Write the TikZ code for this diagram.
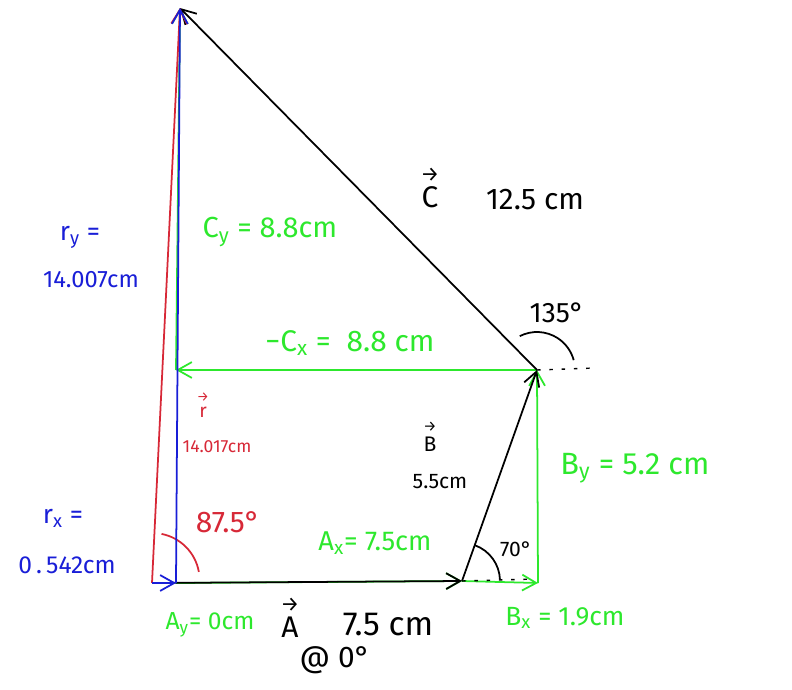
\documentclass[tikz,border=0pt]{standalone}
\usepackage{amsmath}
\usepackage{fontspec}
\setmainfont{Fira Sans}
\usetikzlibrary{arrows.meta}

\definecolor{penGreen}{RGB}{45,232,45}
\definecolor{penBlue}{RGB}{25,30,215}
\definecolor{penRed}{RGB}{215,40,55}

\newcommand{\pensize}[1]{\fontsize{#1}{#1}\selectfont}
\newcommand{\arrowover}[1]{\shortstack{\scalebox{0.7}{→}\\#1}}

\begin{document}
\begin{tikzpicture}[x = 0.02cm, y = -0.02cm, > = {Straight Barb[length = 8pt, width = 9pt]},
	vec/.style = {->, line width = 1pt},
	comp/.style = {vec, penGreen},
	guide/.style = {line width = 0.8pt, dash pattern = on 2pt off 5pt},
	angarc/.style = {line width = 1pt},
	lbl/.style = {inner sep = 0pt, font = \pensize{#1}}]

	\useasboundingbox (0, 0) rectangle (792, 690);

	% Points of the diagram
	
	\coordinate (O) at (152, 583);
	\coordinate (rx) at (176, 583);
	\coordinate (Atip) at (462, 581);
	\coordinate (Bx) at (538, 583);
	\coordinate (Btip) at (537, 370);
	\coordinate (Cx) at (176, 370);
	\coordinate (Rtip) at (180, 8);
	\coordinate (Adash) at (535, 579);
	\coordinate (Bdash) at (595, 368);
	
	% Components
	
	\draw [comp] (rx) -- (Atip);
	\draw [comp] (Atip) -- (Bx);
	\draw [comp] (Bx) -- (Btip);
	\draw [comp] (Btip) -- (Cx);
	\draw [comp] (Cx) -- (Rtip);
	
	% Vectors A, B, C
	
	\draw [vec] (O) -- (Atip);
	\draw [vec] (Atip) -- (Btip);
	\draw [vec] (Btip) -- (Rtip);
	
	% Reference lines and angles
	
	\draw [guide] (Atip) -- (Adash);
	\draw [guide] (Btip) -- (Bdash);
	
	\draw [angarc] ([shift = {(-70:38)}] Atip) arc [start angle = -70, end angle = -2, radius = 38];
	\draw [angarc] ([shift = {(-117:38)}] Btip) arc [start angle = -117, end angle = -15, radius = 38];
	\draw [angarc, penRed] ([shift = {(-79:50)}] O) arc [start angle = -79, end angle = -10, radius = 47];
	
	% Resultant r and its components
	
	\draw [vec, penRed] (O) -- (Rtip);
	\draw [vec, penBlue] (rx) -- (Rtip);
	\draw [vec, penBlue] (O) -- (rx);
	
	% Labels
	
	\node [lbl = 17] (cName) at (430, 188) {\arrowover{C}};
	\node [lbl = 17] (cMag) at (535, 200) {12.5 cm};
	\node [lbl = 16.5, penGreen] (cyLbl) at (270, 232) {$\text{C}_{\text{y}}$ = 8.8cm};
	\node [lbl = 15, penBlue] (ryLbl) at (80, 237) {$\text{r}_{\text{y}}$ =};
	\node [lbl = 13.5, penBlue] (ryVal) at (91, 280) {14.007cm};
	\node [lbl = 16] (ang135) at (557, 313) {135°};
	\node [lbl = 17, penGreen] (cxLbl) at (350, 343) {−$\text{C}_{\text{x}}$ = \ 8.8 cm};
	\node [lbl = 11, penRed] (rName) at (203, 405) {\arrowover{r}};
	\node [lbl = 10, penRed] (rVal) at (217, 447) {14.017cm};
	\node [lbl = 12] (bName) at (430, 437) {\arrowover{B}};
	\node [lbl = 12] (bMag) at (440, 482) {5.5cm};
	\node [lbl = 17.5, penGreen] (byLbl) at (635, 468) {$\text{B}_{\text{y}}$ = 5.2 cm};
	\node [lbl = 15, penBlue] (rxLbl) at (63, 518) {$\text{r}_{\text{x}}$ =};
	\node [lbl = 14, penBlue] (rxVal) at (67, 565) {0\,.\,542cm};
	\node [lbl = 17, penRed] (ang875) at (228, 522) {87.5°};
	\node [lbl = 15.5, penGreen] (axLbl) at (375, 543) {$\text{A}_{\text{x}}$= 7.5cm};
	\node [lbl = 12] (ang70) at (516, 549) {70°};
	\node [lbl = 14, penGreen] (ayLbl) at (210, 625) {$\text{A}_{\text{y}}$= 0cm};
	\node [lbl = 17] (aName) at (290, 618) {\arrowover{A}};
	\node [lbl = 19] (aMag) at (388, 625) {7.5 cm};
	\node [lbl = 15, penGreen] (bxLbl) at (565, 618) {$\text{B}_{\text{x}}$ = 1.9cm};
	\node [lbl = 17] (aDir) at (335, 660) {@ 0°};

\end{tikzpicture}
\end{document}
